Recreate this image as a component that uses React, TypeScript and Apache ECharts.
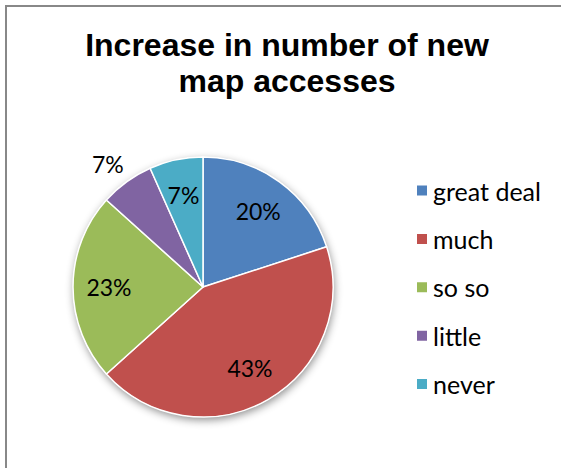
import React, { useEffect, useRef } from "react";
import * as echarts from "echarts";

const categories = ["great deal", "much", "so so", "little", "never"];
const counts = [6, 13, 7, 2, 2];
const colors = ["#4F81BD", "#C0504D", "#9BBB59", "#8064A2", "#4BACC6"];
const titleText = "Increase in number of new\nmap accesses";
const outsideLabelIndex = 3;

const LABEL_FONT = "Lato, 'Noto Sans', sans-serif";

export default function App() {
  const ref = useRef<HTMLDivElement>(null);
  useEffect(() => {
    if (!ref.current) return;
    const chart = echarts.init(ref.current, null, { renderer: "svg" });
    const total = counts.reduce((a, b) => a + b, 0);
    const center = [203, 287];
    const mainData = categories.map((name, i) => ({
      name,
      value: counts[i],
      itemStyle: { color: colors[i] },
    }));
    const ghostData = categories.map((name, i) => {
      const item: any = {
        name,
        value: counts[i],
        itemStyle: { color: "rgba(0,0,0,0)", borderWidth: 0 },
      };
      if (i === outsideLabelIndex) {
        item.label = { position: "outside", distanceToLabelLine: -10 };
        item.labelLine = { show: false, length: 22, length2: 0 };
      }
      return item;
    });
    chart.setOption({
      animation: false,
      backgroundColor: "#ffffff",
      title: {
        text: titleText,
        left: 282,
        top: 22,
        textAlign: "center",
        textStyle: {
          fontFamily: "'Liberation Sans', Arial, sans-serif",
          fontWeight: "bold",
          fontSize: 32,
          lineHeight: 36,
          color: "#000000",
        },
      },
      legend: {
        orient: "vertical",
        left: 410,
        top: 173,
        itemWidth: 12,
        itemHeight: 12,
        itemGap: 23.4,
        icon: "rect",
        data: categories,
        selectedMode: false,
        textStyle: {
          fontFamily: LABEL_FONT,
          fontSize: 25,
          lineHeight: 24,
          color: "#000000",
        },
      },
      graphic: [
        {
          type: "line",
          shape: { x1: 6, y1: 5, x2: 6, y2: 468 },
          style: { stroke: "#888888", lineWidth: 2 },
          silent: true,
          z: 0,
        },
        {
          type: "line",
          shape: { x1: 5, y1: 6, x2: 561, y2: 6 },
          style: { stroke: "#888888", lineWidth: 2 },
          silent: true,
          z: 0,
        },
      ],
      series: [
        {
          type: "pie",
          name: "backdrop",
          center,
          radius: 130,
          silent: true,
          z: 1,
          legendHoverLink: false,
          label: { show: false },
          labelLine: { show: false },
          data: [
            {
              value: 1,
              name: "",
              itemStyle: {
                color: "#ffffff",
                shadowBlur: 8,
                shadowColor: "rgba(0,0,0,0.45)",
                shadowOffsetY: 3,
                shadowOffsetX: 1,
              },
            },
          ],
        },
        {
          type: "pie",
          name: "main",
          center,
          radius: 130,
          startAngle: 90,
          clockwise: true,
          z: 2,
          silent: true,
          label: { show: false },
          labelLine: { show: false },
          itemStyle: { borderColor: "#ffffff", borderWidth: 1.5 },
          data: mainData,
        },
        {
          type: "pie",
          name: "labels",
          center,
          radius: [52, 130],
          startAngle: 90,
          clockwise: true,
          z: 3,
          silent: true,
          avoidLabelOverlap: false,
          legendHoverLink: false,
          label: {
            show: true,
            position: "inside",
            fontFamily: LABEL_FONT,
            fontSize: 23,
            color: "#000000",
            formatter: (p: any) => Math.round((p.value / total) * 100) + "%",
          },
          labelLine: { show: false },
          data: ghostData,
        },
      ],
    });
    return () => chart.dispose();
  }, []);
  return (
    <div
      ref={ref}
      style={{
        position: "absolute",
        left: 0,
        top: 0,
        width: 561,
        height: 468,
        overflow: "hidden",
      }}
    />
  );
}
